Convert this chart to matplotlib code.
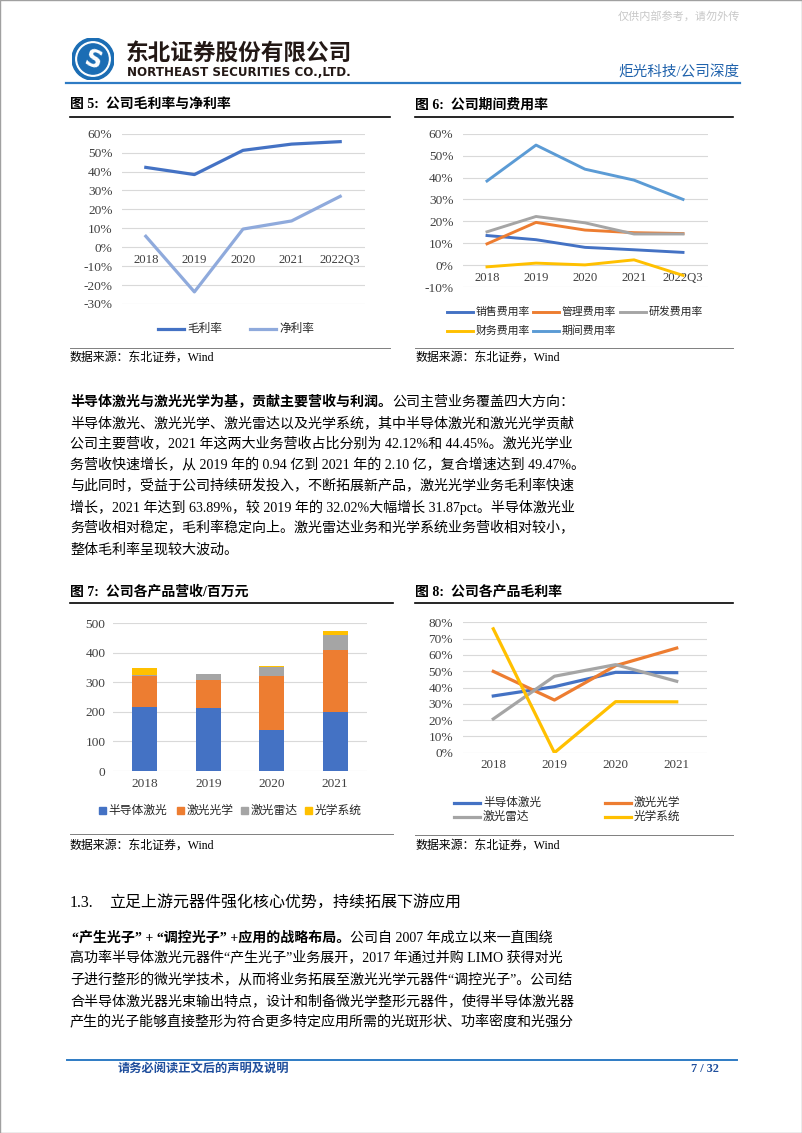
import numpy as np
import matplotlib
matplotlib.use("Agg")
import matplotlib.pyplot as plt
from matplotlib.lines import Line2D
from matplotlib.patches import Rectangle, Circle

plt.rcParams['font.family'] = ['Liberation Serif', 'Noto Sans CJK SC', 'DejaVu Sans']
plt.rcParams['axes.unicode_minus'] = False

# ---- data ----
years5 = ["2018", "2019", "2020", "2021", "2022Q3"]
gross_margin = [42.2, 38.4, 51.2, 54.5, 55.8]
net_margin = [5.8, -23.6, 9.6, 13.9, 26.9]
y5_ticks = [-30, -20, -10, 0, 10, 20, 30, 40, 50, 60]

exp_names = ["销售费用率", "管理费用率", "研发费用率", "财务费用率", "期间费用率"]
sales_rate = [13.5, 11.6, 8.1, 7.0, 5.8]
admin_rate = [9.7, 19.5, 16.0, 14.8, 14.4]
rd_rate = [15.2, 22.2, 19.3, 14.2, 14.2]
fin_rate = [-0.8, 0.9, 0.1, 2.4, -4.7]
period_rate = [38.4, 54.8, 43.8, 38.8, 30.0]
y6_ticks = [-10, 0, 10, 20, 30, 40, 50, 60]

years4 = ["2018", "2019", "2020", "2021"]
prod_names = ["半导体激光", "激光光学", "激光雷达", "光学系统"]
rev_semi = [216, 213, 139, 199]
rev_optics = [107, 96, 183, 211]
rev_lidar = [1, 20, 29, 52]
rev_system = [25, 1, 3, 12]
y7_ticks = [0, 100, 200, 300, 400, 500]

gm_semi = [34.8, 40.5, 49.3, 49.1]
gm_optics = [49.9, 32.3, 53.4, 64.2]
gm_lidar = [20.7, 46.9, 54.0, 43.8]
gm_system = [76.0, 0.0, 31.3, 31.2]
y8_ticks = [0, 10, 20, 30, 40, 50, 60, 70, 80]

c_blue = "#4472C4"
c_orange = "#ED7D31"
c_grey = "#A5A5A5"
c_yellow = "#FFC000"
c_sky = "#5B9BD5"
c_light = "#8FAADC"
grid_c = "#D9D9D9"
tick_c = "#404040"

W, H = 802, 1133
fig = plt.figure(figsize=(W / 100, H / 100), dpi=100)


def px_axes(l, t, r, b):
    return fig.add_axes([l / W, 1 - b / H, (r - l) / W, (b - t) / H])


def ftext(x, y, s, **kw):
    kw.setdefault("va", "center")
    return fig.text(x / W, 1 - y / H, s, **kw)


def hline(x0, x1, y, color, lw):
    fig.add_artist(Line2D([x0 / W, x1 / W], [1 - y / H, 1 - y / H], color=color,
                          lw=lw, transform=fig.transFigure))


def style_axes(ax, ticks, labels, cats, ylim, xpad, ypad, xfs, yfs, zero_axis=False):
    for s in ax.spines.values():
        s.set_visible(False)
    if zero_axis:
        ax.spines['bottom'].set_position(('data', 0))
    ax.set_yticks(ticks)
    ax.set_yticklabels(labels)
    ax.set_ylim(*ylim)
    ax.set_xticks(range(len(cats)))
    ax.set_xticklabels(cats)
    ax.set_xlim(-0.5, len(cats) - 0.5)
    ax.grid(axis='y', color=grid_c, lw=0.8)
    ax.set_axisbelow(True)
    ax.tick_params(axis='both', length=0, labelcolor=tick_c)
    ax.tick_params(axis='x', pad=xpad, labelsize=xfs)
    ax.tick_params(axis='y', pad=ypad, labelsize=yfs)


def leg_line(x, y, color, label, lw, fs):
    hline(x, x + 26, y, color, lw)
    ftext(x + 29, y, label, fontsize=fs, color="#262626")


def chart_frame(x0, x1, title, ty, ly, by, sy):
    ftext(x0, ty, title, fontsize=10, weight='bold')
    hline(x0, x1, ly, "black", 1.2)
    hline(x0, x1, by, "#7F7F7F", 0.7)
    ftext(x0, sy, "数据来源：东北证券，Wind", fontsize=8.6)


# ---- header ----
ftext(740, 16, "仅供内部参考，请勿外传", fontsize=8, color="#C8C8C8", ha='right')
lax = px_axes(72, 38, 114, 80)
lax.set_xlim(-1, 1)
lax.set_ylim(-1, 1)
lax.set_aspect('equal')
lax.axis('off')
lax.add_patch(Circle((0, 0), 1.0, color="#1B6DB4"))
lax.add_patch(Circle((0, 0), 0.82, color="white"))
lax.add_patch(Circle((0, 0), 0.72, color="#1B6DB4"))
lax.text(0, -0.05, "S", color="white", fontsize=17, weight='bold', ha='center',
         va='center', family='DejaVu Sans', rotation=-20)
ftext(126, 53, "东北证券股份有限公司", fontsize=16.3, weight='heavy',
      family=['Noto Sans CJK SC'], color="#231815")
ftext(127, 72, "NORTHEAST SECURITIES CO.,LTD.", fontsize=8.6, weight='bold',
      family='DejaVu Sans', color="#231815")
ftext(740, 72, "炬光科技/公司深度", fontsize=10.5, color="#1F62AC", ha='right')
hline(66, 740, 82.5, "#2E7BC4", 1.6)

# ---- chart 5 ----
chart_frame(70, 390, "图 5:  公司毛利率与净利率", 105, 117, 348, 358)
ax5 = px_axes(121.5, 133.7, 364.5, 304)
x5 = np.arange(len(years5))
ax5.plot(x5, gross_margin, color=c_blue, lw=2.3)
ax5.plot(x5, net_margin, color=c_light, lw=2.3)
style_axes(ax5, y5_ticks, [f"{v}%" for v in y5_ticks], years5, (-30, 60), 5, 6.5,
           9.2, 9.6, zero_axis=True)
leg_line(158, 329, c_blue, "毛利率", 2.3, 8.4)
leg_line(250, 329, c_light, "净利率", 2.3, 8.4)

# ---- chart 6 ----
chart_frame(415, 733, "图 6:  公司期间费用率", 105, 117, 348, 358)
ax6 = px_axes(462.5, 133.7, 707.5, 287)
exp_series = [sales_rate, admin_rate, rd_rate, fin_rate, period_rate]
exp_colors = [c_blue, c_orange, c_grey, c_yellow, c_sky]
for vals, col in zip(exp_series, exp_colors):
    ax6.plot(x5, vals, color=col, lw=2.1)
style_axes(ax6, y6_ticks, [f"{v}%" for v in y6_ticks], years5, (-10, 60), 5, 6.5,
           9.2, 9.6, zero_axis=True)
leg6_pos = [(447, 311.7), (533, 311.7), (620, 311.7), (447, 330.7), (533, 330.7)]
for (lx, ly), col, name in zip(leg6_pos, exp_colors, exp_names):
    leg_line(lx, ly, col, name, 2.1, 7.8)

# ---- text block 1 ----
body_fs = 10.1
line_h = 21.1
para1 = [
    "半导体激光、激光光学、激光雷达以及光学系统，其中半导体激光和激光光学贡献",
    "公司主要营收，2021 年这两大业务营收占比分别为 42.12%和 44.45%。激光光学业",
    "务营收快速增长，从 2019 年的 0.94 亿到 2021 年的 2.10 亿，复合增速达到 49.47%。",
    "与此同时，受益于公司持续研发投入，不断拓展新产品，激光光学业务毛利率快速",
    "增长，2021 年达到 63.89%，较 2019 年的 32.02%大幅增长 31.87pct。半导体激光业",
    "务营收相对稳定，毛利率稳定向上。激光雷达业务和光学系统业务营收相对较小，",
    "整体毛利率呈现较大波动。",
]
renderer = fig.canvas.get_renderer()
t = ftext(70, 402, "半导体激光与激光光学为基，贡献主要营收与利润。", fontsize=body_fs, weight='bold')
bb = t.get_window_extent(renderer)
ftext(bb.x1, 402, "公司主营业务覆盖四大方向：", fontsize=body_fs)
for i, s in enumerate(para1):
    ftext(70, 402 + line_h * (i + 1), s, fontsize=body_fs)

# ---- chart 7 ----
chart_frame(70, 393, "图 7:  公司各产品营收/百万元", 592, 603, 834, 846)
ax7 = px_axes(113, 623.3, 367, 771)
x4 = np.arange(len(years4))
bottom = np.zeros(len(years4))
prod_colors = [c_blue, c_orange, c_grey, c_yellow]
for vals, col in zip([rev_semi, rev_optics, rev_lidar, rev_system], prod_colors):
    ax7.bar(x4, vals, width=0.4, bottom=bottom, color=col)
    bottom += np.array(vals)
style_axes(ax7, y7_ticks, [str(v) for v in y7_ticks], years4, (0, 500), 5, 5.5, 9.6, 9.6)
for (sx, col, name) in zip([98.5, 176.5, 240.5, 304.5], prod_colors, prod_names):
    fig.add_artist(Rectangle((sx / W, 1 - 814.2 / H), 7 / W, 7 / H, color=col,
                             transform=fig.transFigure))
    ftext(sx + 10, 810.7, name, fontsize=8.5, color="#262626")

# ---- chart 8 ----
chart_frame(415, 733, "图 8:  公司各产品毛利率", 592, 603, 835, 846)
ax8 = px_axes(462.7, 622.3, 707.3, 752.7)
for vals, col in zip([gm_semi, gm_optics, gm_lidar, gm_system], prod_colors):
    ax8.plot(x4, vals, color=col, lw=2.3)
style_axes(ax8, y8_ticks, [f"{v}%" for v in y8_ticks], years4, (0, 80), 4.5, 7, 9.4, 9.6)
leg8_pos = [(454, 802.7), (605, 802.7), (454, 816.7), (605, 816.7)]
for (lx, ly), col, name in zip(leg8_pos, prod_colors, prod_names):
    leg_line(lx, ly, col, name, 2.3, 8.4)

# ---- section 1.3 ----
ftext(70, 903, "1.3.", fontsize=11.5)
ftext(109, 903, "立足上游元器件强化核心优势，持续拓展下游应用", fontsize=11.5)
para2 = [
    "高功率半导体激光元器件“产生光子”业务展开，2017 年通过并购 LIMO 获得对光",
    "子进行整形的微光学技术，从而将业务拓展至激光光学元器件“调控光子”。公司结",
    "合半导体激光器光束输出特点，设计和制备微光学整形元器件，使得半导体激光器",
    "产生的光子能够直接整形为符合更多特定应用所需的光斑形状、功率密度和光强分",
]
t = ftext(72, 937.5, "“产生光子” + “调控光子” +应用的战略布局。", fontsize=body_fs, weight='bold')
bb = t.get_window_extent(renderer)
ftext(bb.x1, 937.5, "公司自 2007 年成立以来一直围绕", fontsize=body_fs)
for i, s in enumerate(para2):
    ftext(70, 937.5 + line_h * (i + 1), s, fontsize=body_fs)

# ---- footer ----
hline(67, 737, 1060, "#2E7BC4", 1.4)
ftext(118, 1069, "请务必阅读正文后的声明及说明", fontsize=8.8, weight='bold', color="#1F4E9C")
ftext(719, 1069, "7 / 32", fontsize=8.8, weight='bold', color="#1F4E9C", ha='right')

fig.add_artist(Rectangle((0, 0), 1, 1, fill=False, edgecolor="#A0A0A0", lw=1,
                         transform=fig.transFigure))

fig.savefig("out.png", dpi=100)
